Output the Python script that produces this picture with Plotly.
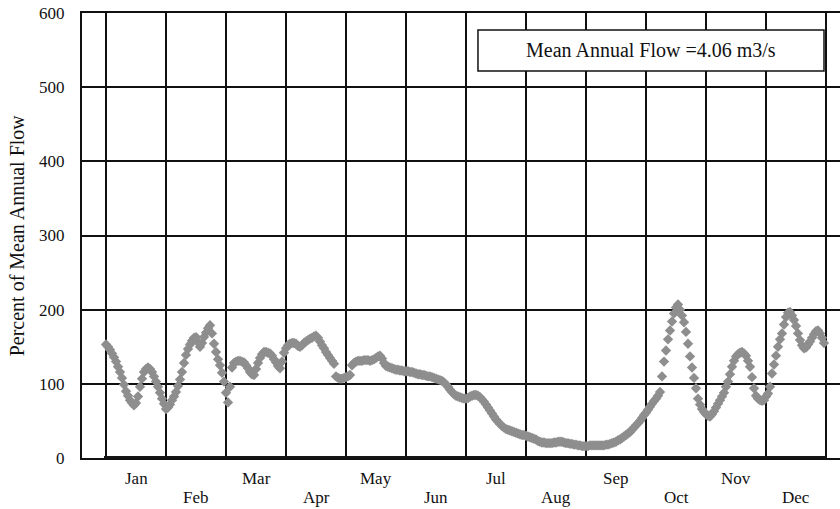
import plotly.graph_objects as go

# Percent of mean annual flow, one value per day (30-day months as on the chart)
flow_jan = [153, 150, 146, 141, 136, 130, 123, 116, 108, 99, 90, 84, 78, 74, 71, 74, 83, 96, 107, 116,
            120, 122, 120, 116, 110, 103, 96, 88, 80, 73]
flow_feb = [66, 68, 72, 78, 83, 89, 97, 106, 116, 128, 139, 147, 153, 158, 162, 163, 156, 150, 155, 163,
            169, 175, 179, 168, 154, 143, 133, 125, 115, 103]
flow_mar = [88, 75, 96, 122, 128, 130, 131, 131, 130, 129, 125, 121, 116, 113, 112, 120, 128, 135, 140, 143,
            143, 142, 141, 138, 133, 129, 124, 121, 130, 142]
flow_apr = [148, 152, 154, 155, 155, 154, 151, 150, 152, 155, 157, 159, 161, 162, 164, 165, 162, 157, 152, 148,
            143, 139, 135, 131, 127, 110, 108, 107, 107, 108]
flow_may = [109, 110, 112, 125, 128, 130, 131, 131, 131, 132, 132, 132, 131, 132, 133, 135, 137, 138, 134, 128,
            124, 123, 122, 121, 120, 119, 119, 118, 118, 117]
flow_jun = [117, 117, 116, 116, 115, 114, 113, 113, 112, 112, 111, 110, 110, 109, 108, 107, 106, 105, 104, 102,
            99, 96, 92, 89, 86, 84, 83, 82, 81, 80]
flow_jul = [80, 81, 83, 84, 85, 85, 84, 82, 79, 76, 72, 68, 64, 60, 56, 52, 49, 46, 43, 41,
            39, 38, 37, 36, 35, 34, 33, 32, 31, 31]
flow_aug = [30, 29, 28, 27, 26, 25, 23, 22, 21, 21, 20, 20, 20, 20, 21, 21, 22, 22, 22, 21,
            20, 20, 19, 19, 18, 18, 17, 17, 16, 16]
flow_sep = [16, 16, 17, 17, 17, 17, 17, 17, 17, 17, 18, 18, 19, 20, 21, 22, 24, 25, 27, 29,
            31, 33, 35, 38, 41, 44, 47, 50, 54, 58]
flow_oct = [61, 65, 69, 73, 77, 80, 84, 89, 110, 130, 145, 160, 172, 184, 195, 203, 207, 200, 192, 183,
            170, 154, 137, 122, 108, 94, 80, 72, 66, 62]
flow_nov = [59, 57, 56, 59, 63, 68, 73, 78, 83, 88, 96, 103, 113, 123, 131, 137, 140, 142, 143, 141,
            138, 131, 123, 109, 94, 84, 80, 78, 77, 78]
flow_dec = [83, 87, 96, 114, 126, 138, 150, 160, 168, 180, 190, 196, 197, 192, 186, 178, 168, 159, 152, 148,
            149, 153, 157, 162, 167, 171, 172, 168, 162, 155]

months_odd_row = ["Jan", "", "Mar", "", "May", "", "Jul", "", "Sep", "", "Nov", ""]
months_even_row = ["", "Feb", "", "Apr", "", "Jun", "", "Aug", "", "Oct", "", "Dec"]
y_ticks = [0, 100, 200, 300, 400, 500, 600]
note_text = "Mean Annual Flow =4.06 m3/s"
y_title = "Percent of Mean Annual Flow"

flow = (flow_jan + flow_feb + flow_mar + flow_apr + flow_may + flow_jun +
        flow_jul + flow_aug + flow_sep + flow_oct + flow_nov + flow_dec)
days = list(range(len(flow)))
zeros = [0] * len(flow)

serif = "Liberation Serif, Times New Roman, serif"

fig = go.Figure()
fig.add_trace(go.Scatter(
    x=days, y=flow, mode="markers",
    marker=dict(symbol="diamond", size=8, color="#8e8e8e", line=dict(width=0)),
    showlegend=False, hoverinfo="x+y"))
fig.add_trace(go.Scatter(
    x=days, y=zeros, mode="markers", cliponaxis=False,
    marker=dict(symbol="square", size=4, color="#151515", line=dict(width=0)),
    showlegend=False))

annotations = []
for i in range(12):
    mid = 15 + 30 * i
    if months_odd_row[i]:
        annotations.append(dict(x=mid, y=-0.045, xref="x", yref="paper", text=months_odd_row[i],
                                showarrow=False, xanchor="center", yanchor="middle",
                                font=dict(family=serif, size=17, color="#111")))
    if months_even_row[i]:
        annotations.append(dict(x=mid, y=-0.088, xref="x", yref="paper", text=months_even_row[i],
                                showarrow=False, xanchor="center", yanchor="middle",
                                font=dict(family=serif, size=17, color="#111")))
annotations.append(dict(x=-0.086, y=0.5, xref="paper", yref="paper", text=y_title, textangle=-90,
                        showarrow=False, xanchor="center", yanchor="middle",
                        font=dict(family=serif, size=20, color="#111")))
annotations.append(dict(x=0.7505, y=0.9158, xref="paper", yref="paper", text=note_text,
                        showarrow=False, xanchor="center", yanchor="middle",
                        font=dict(family=serif, size=20, color="#111")))

fig.update_layout(
    width=840, height=509,
    margin=dict(l=82, r=0, t=13, b=51),
    paper_bgcolor="white", plot_bgcolor="white",
    xaxis=dict(range=[-12, 367], tickmode="array", tickvals=[30 * k for k in range(13)],
               showticklabels=False, ticks="", showgrid=True, gridcolor="#111", gridwidth=1.6,
               zeroline=False, showline=True, linecolor="#111", linewidth=2, mirror=True),
    yaxis=dict(range=[0, 600], tickmode="array", tickvals=y_ticks, ticks="",
               ticklabelstandoff=12, tickfont=dict(family=serif, size=17, color="#111"),
               showgrid=True, gridcolor="#111", gridwidth=1.6, zeroline=False,
               showline=True, linecolor="#111", linewidth=2, mirror=False),
    shapes=[dict(type="rect", xref="paper", yref="paper", x0=0.5224, x1=0.9789, y0=0.8697, y1=0.9618,
                 fillcolor="white", line=dict(color="#111", width=1.5), layer="above")],
    annotations=annotations,
)

fig.write_html("out.html", config={"displayModeBar": False},
               post_script="document.body.style.margin='0';")
